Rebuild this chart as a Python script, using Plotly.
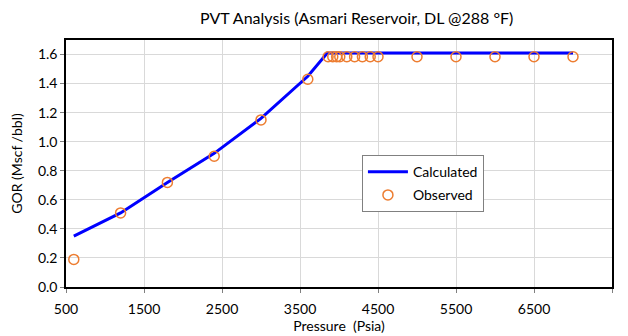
import plotly.graph_objects as go

calc_p = [600, 1200, 1800, 2400, 3000, 3600, 3850, 4500, 5000, 5500, 6000, 6500, 7000]
calc_gor = [0.35, 0.51, 0.72, 0.92, 1.16, 1.45, 1.61, 1.61, 1.61, 1.61, 1.61, 1.61, 1.61]

obs_p = [600, 1200, 1800, 2400, 3000, 3600, 3860, 3920, 3970, 4010, 4100, 4200, 4300, 4400, 4500,
         5000, 5500, 6000, 6500, 7000]
obs_gor = [0.19, 0.51, 0.72, 0.90, 1.15, 1.43, 1.585, 1.585, 1.585, 1.585, 1.585, 1.585, 1.585,
           1.585, 1.585, 1.585, 1.585, 1.585, 1.585, 1.585]

x_ticks = [500, 1500, 2500, 3500, 4500, 5500, 6500, 7500]
y_ticks = [0.0, 0.2, 0.4, 0.6, 0.8, 1.0, 1.2, 1.4, 1.6]

FONT = "Lato"

fig = go.Figure()
fig.add_trace(go.Scatter(x=calc_p, y=calc_gor, mode="lines", name="Calculated", legendgroup="a",
                         line=dict(color="#0000FF", width=3)))
fig.add_trace(go.Scatter(x=obs_p, y=obs_gor, mode="markers", name="Observed", legendgroup="b",
                         marker=dict(symbol="circle-open", size=10, color="#ED7D31",
                                     line=dict(width=1.5, color="#ED7D31"))))

fig.update_layout(
    width=628, height=336,
    margin=dict(l=66, r=16, t=40, b=49, autoexpand=False),
    paper_bgcolor="white", plot_bgcolor="white",
    font=dict(family=FONT, size=14, color="#000000"),
    title=dict(text="PVT Analysis (Asmari Reservoir, DL @288 °F)", x=0.568, xanchor="center",
               y=0.945, yanchor="middle", font=dict(size=16, family=FONT)),
    showlegend=True,
    legend=dict(x=0.542, y=0.534, xanchor="left", yanchor="top",
                bgcolor="white", bordercolor="#808080", borderwidth=1,
                font=dict(size=14, family=FONT), itemwidth=40,
                tracegroupgap=2),
)
fig.update_xaxes(range=[500, 7500], tickvals=x_ticks, ticktext=[str(v) for v in x_ticks],
                 showgrid=True, gridcolor="#D9D9D9", gridwidth=1, automargin=False,
                 showline=True, linecolor="black", linewidth=1.5, mirror=True,
                 ticks="outside", ticklen=4, tickcolor="#808080", zeroline=False,
                 ticklabelstandoff=4,
                 title=dict(text="Pressure  (Psia)", font=dict(size=14), standoff=6))
fig.update_yaxes(range=[0, 1.7], tickvals=y_ticks, ticktext=[f"{v:.1f}" for v in y_ticks],
                 showgrid=True, gridcolor="#D9D9D9", gridwidth=1, automargin=False,
                 showline=True, linecolor="black", linewidth=1.5, mirror=True,
                 ticks="outside", ticklen=4, tickcolor="#808080", zeroline=False,
                 title=dict(text="GOR (Mscf /bbl)", font=dict(size=14), standoff=12))

fig.write_html("out.html")
